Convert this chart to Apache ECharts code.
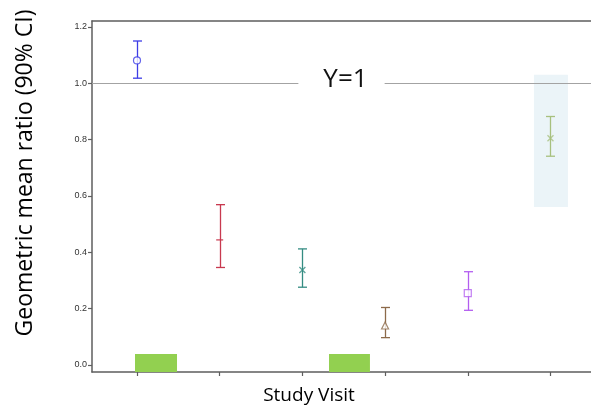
<!DOCTYPE html>
<html>
<head>
<meta charset="utf-8">
<script src="https://cdn.jsdelivr.net/npm/echarts@6/dist/echarts.min.js"></script>
<style>
  html, body { margin: 0; padding: 0; background: #ffffff; }
  #chart { width: 591px; height: 406px; }
</style>
</head>
<body>
<div id="chart"></div>
<script>
// Study visits and geometric mean ratios with 90% confidence limits
const visits = [1, 2, 3, 4, 5, 6];
const gmr    = [1.081, 0.444, 0.337, 0.140, 0.255, 0.805];
const ciLow  = [1.018, 0.346, 0.276, 0.097, 0.194, 0.741];
const ciHigh = [1.150, 0.569, 0.412, 0.204, 0.331, 0.882];

// Y axis tick values
const yTicks = [0, 0.2, 0.4, 0.6, 0.8, 1.0, 1.2];

// Reference line
const refValue = 1;
const refLabel = 'Y=1';

// Highlighted ranges: [xStart, xEnd, yStart, yEnd]
const greenBands = [[0.976, 1.484, -0.025, 0.039], [3.322, 3.817, -0.025, 0.039]];
const blueBands  = [[5.800, 6.211, 0.561, 1.030]];

// Per-visit marker styling
const markerColors = ['#3d3de6', '#c8394f', '#348c82', '#8c6a4a', '#b35ef0', '#a7c07e'];
const crossPath = 'path://M0,0L10,10M10,0L0,10';
const markerShapes = [
  { symbol: 'circle', symbolSize: 7, hollow: true },
  { symbol: 'rect', symbolSize: [7, 1.5], hollow: false },
  { symbol: crossPath, symbolSize: 6, stroke: true },
  { symbol: 'triangle', symbolSize: 7, hollow: true },
  { symbol: 'rect', symbolSize: 7, hollow: true },
  { symbol: crossPath, symbolSize: 6, stroke: true }
];

const X_MIN = 0.456, X_MAX = 6.49;
const Y_MIN = -0.025, Y_MAX = 1.221;
const axisColor = '#5e5e5e';

function renderBand(params, api) {
  const p0 = api.coord([api.value(0), api.value(3)]);
  const p1 = api.coord([api.value(1), api.value(2)]);
  return {
    type: 'rect',
    shape: { x: p0[0], y: p0[1], width: p1[0] - p0[0], height: p1[1] - p0[1] },
    style: { fill: api.visual('color') }
  };
}

function renderErrorBar(params, api) {
  const x = api.value(0);
  const lo = api.coord([x, api.value(1)]);
  const hi = api.coord([x, api.value(2)]);
  const c = markerColors[params.dataIndex];
  const px = Math.round(lo[0]) + 0.5;
  const half = 4.5;
  const st = { stroke: c, lineWidth: 1.3 };
  return {
    type: 'group',
    children: [
      { type: 'line', shape: { x1: px, y1: hi[1], x2: px, y2: lo[1] }, style: st },
      { type: 'line', shape: { x1: px - half, y1: hi[1], x2: px + half, y2: hi[1] }, style: st },
      { type: 'line', shape: { x1: px - half, y1: lo[1], x2: px + half, y2: lo[1] }, style: st }
    ]
  };
}

const meanPoints = visits.map((v, i) => {
  const m = markerShapes[i];
  const c = markerColors[i];
  let itemStyle;
  if (m.stroke) itemStyle = { color: 'none', borderColor: c, borderWidth: 1.3 };
  else if (m.hollow) itemStyle = { color: '#ffffff', borderColor: c, borderWidth: 1.2 };
  else itemStyle = { color: c };
  return { value: [v, gmr[i]], symbol: m.symbol, symbolSize: m.symbolSize, itemStyle };
});

const chart = echarts.init(document.getElementById('chart'), null, { renderer: 'canvas' });

chart.setOption({
  animation: false,
  backgroundColor: '#ffffff',
  grid: { left: 92, right: 0, top: 21, bottom: 34, containLabel: false, outerBoundsMode: 'none' },
  xAxis: [
    {
      type: 'value', min: X_MIN, max: X_MAX,
      axisLine: { show: true, onZero: false, lineStyle: { color: axisColor, width: 1.5 } },
      axisTick: { show: true, customValues: visits, length: 4, inside: false, lineStyle: { color: axisColor, width: 1.2 } },
      axisLabel: { show: false },
      splitLine: { show: false }
    },
    {
      type: 'value', position: 'top', min: X_MIN, max: X_MAX,
      axisLine: { show: true, onZero: false, lineStyle: { color: axisColor, width: 1.5 } },
      axisTick: { show: false },
      axisLabel: { show: false },
      splitLine: { show: false }
    }
  ],
  yAxis: {
    type: 'value', min: Y_MIN, max: Y_MAX,
    axisLine: { show: true, onZero: false, lineStyle: { color: axisColor, width: 1.5 } },
    axisTick: { show: true, customValues: yTicks, length: 4, lineStyle: { color: axisColor, width: 1.2 } },
    axisLabel: {
      customValues: yTicks, margin: 5,
      formatter: v => v.toFixed(1),
      fontFamily: 'Liberation Sans, Arial, sans-serif', fontSize: 9, color: '#333333'
    },
    splitLine: { show: false }
  },
  graphic: [
    {
      type: 'text', x: 25, y: 173, rotation: Math.PI / 2,
      style: {
        text: 'Geometric mean ratio (90% CI)',
        font: '23px "Open Sans", sans-serif', fill: '#000000',
        align: 'center', verticalAlign: 'middle'
      }
    },
    {
      type: 'text', x: 309, y: 396,
      style: {
        text: 'Study Visit',
        font: '19px "Open Sans", sans-serif', fill: '#000000',
        align: 'center', verticalAlign: 'middle'
      }
    }
  ],
  series: [
    {
      type: 'line', data: [], z: 1, silent: true,
      markLine: {
        silent: true, symbol: 'none', animation: false,
        lineStyle: { color: '#a3a3a3', width: 1.2, type: 'solid' },
        label: {
          show: true, position: 'middle', formatter: refLabel, distance: -19,
          fontFamily: '"Open Sans", sans-serif', fontSize: 26, color: '#111111',
          backgroundColor: '#ffffff', padding: [0, 17, 10, 25]
        },
        data: [{ yAxis: refValue }]
      }
    },
    {
      type: 'custom', z: 2, silent: true, renderItem: renderBand,
      itemStyle: { color: '#92d050' },
      encode: { x: [0, 1], y: [2, 3] },
      data: greenBands
    },
    {
      type: 'custom', z: 2, silent: true, renderItem: renderBand,
      itemStyle: { color: '#ebf4f8' },
      encode: { x: [0, 1], y: [2, 3] },
      data: blueBands
    },
    {
      type: 'custom', z: 3, silent: true, renderItem: renderErrorBar,
      encode: { x: 0, y: [1, 2] },
      data: visits.map((v, i) => [v, ciLow[i], ciHigh[i]])
    },
    {
      type: 'scatter', z: 4, silent: true,
      data: meanPoints
    }
  ]
});
</script>
</body>
</html>
